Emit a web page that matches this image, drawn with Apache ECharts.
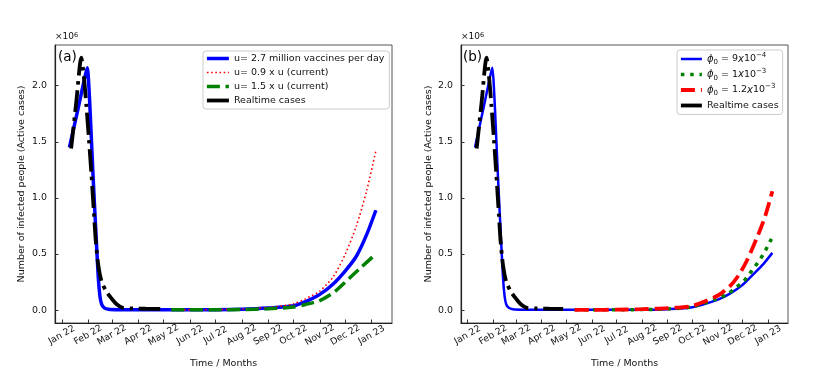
<!DOCTYPE html>
<html>
<head>
<meta charset="utf-8">
<script src="https://cdn.jsdelivr.net/npm/echarts@6/dist/echarts.min.js"></script>
<style>
html,body{margin:0;padding:0;background:#fff;}
#main{width:830px;height:374px;}
</style>
</head>
<body>
<div id="main"></div>
<script>
// 刻度
var monthTicks = ['2022-01-01','2022-02-01','2022-03-01','2022-04-01','2022-05-01','2022-06-01','2022-07-01',
	'2022-08-01','2022-09-01','2022-10-01','2022-11-01','2022-12-01','2023-01-01'];
var monthNames = ['Jan','Feb','Mar','Apr','May','Jun','Jul','Aug','Sep','Oct','Nov','Dec'];
var yTicks = [0, 0.5, 1.0, 1.5, 2.0];

// 数据, 单位 x10^6
var blueDecay = [['2022-01-10',1.45],['2022-01-20',1.79],['2022-01-28',2.07],['2022-01-31',2.16],['2022-02-02',1.98],
	['2022-02-04',1.67],['2022-02-07',1.17],['2022-02-10',0.72],['2022-02-13',0.29],['2022-02-15',0.12],
	['2022-02-17',0.05],['2022-02-20',0.02],['2022-02-25',0.008],['2022-03-10',0.004],['2022-04-15',0.002],['2022-06-01',0.002],
	['2022-07-01',0.003]];
var u27Growth = [['2022-08-01',0.007],['2022-09-01',0.018],['2022-10-01',0.038],['2022-10-15',0.075],['2022-11-01',0.14],
	['2022-11-17',0.235],['2022-12-01',0.35],['2022-12-14',0.48],['2022-12-26',0.67],['2023-01-06',0.89]];
var u09 = [['2022-05-10',0.002],['2022-06-01',0.002],['2022-07-01',0.004],['2022-08-01',0.009],['2022-09-01',0.022],
	['2022-10-01',0.056],['2022-10-15',0.10],['2022-11-01',0.17],['2022-11-17',0.30],['2022-12-01',0.50],['2022-12-14',0.75],
	['2022-12-26',1.06],['2023-01-06',1.42]];
var u15 = [['2022-05-10',0.002],['2022-06-01',0.002],['2022-07-01',0.003],['2022-08-01',0.005],['2022-09-01',0.012],
	['2022-10-01',0.027],['2022-10-15',0.05],['2022-11-01',0.085],['2022-11-17',0.155],['2022-12-01',0.25],['2022-12-18',0.37],
	['2023-01-06',0.50]];
var realtime = [['2022-01-12',1.44],['2022-01-18',1.85],['2022-01-24',2.25],['2022-01-27',2.08],['2022-01-30',1.82],
	['2022-02-02',1.52],['2022-02-05',1.20],['2022-02-08',0.85],['2022-02-10',0.62],['2022-02-13',0.40],['2022-02-17',0.25],
	['2022-02-23',0.16],['2022-03-01',0.10],['2022-03-07',0.05],['2022-03-14',0.02],['2022-03-25',0.015],['2022-04-10',0.012],
	['2022-04-27',0.01]];
var phi9Growth = [['2022-08-01',0.003],['2022-09-01',0.008],['2022-10-01',0.026],['2022-11-01',0.094],['2022-11-15',0.144],
	['2022-12-01',0.226],['2022-12-14',0.32],['2022-12-26',0.41],['2023-01-06',0.51]];
var phi1 = [['2022-05-11',0.002],['2022-06-01',0.002],['2022-07-01',0.003],['2022-08-01',0.005],['2022-09-01',0.01],
	['2022-10-01',0.03],['2022-11-01',0.105],['2022-11-13',0.144],['2022-11-22',0.197],['2022-12-01',0.247],['2022-12-08',0.31],
	['2022-12-15',0.38],['2022-12-21',0.44],['2022-12-27',0.51],['2023-01-01',0.58],['2023-01-06',0.65]];
var phi12 = [['2022-05-11',0.002],['2022-06-01',0.002],['2022-07-01',0.004],['2022-08-01',0.008],['2022-09-01',0.018],
	['2022-10-01',0.038],['2022-11-01',0.13],['2022-11-15',0.21],['2022-11-26',0.31],['2022-12-06',0.44],['2022-12-18',0.64],
	['2022-12-28',0.83],['2023-01-06',1.06]];

var FONT = 'DejaVu Sans';

function ts(s){
	var p = s.split('-');
	return new Date(+p[0], +p[1]-1, +p[2]).getTime();
}
function pts(arr){
	return arr.map(function(d){ return [ts(d[0]), d[1]]; });
}

function makeX(gi){
	return {
		type:'value', gridIndex:gi, scale:true,
		min: ts('2021-12-24'), max: ts('2023-01-25'),
		name:'Time / Months', nameLocation:'middle', nameGap:36,
		nameTextStyle:{fontFamily:FONT, fontSize:9.5, color:'#111'},
		axisLine:{show:true, onZero:false, lineStyle:{color:'#222', width:1.2}},
		axisTick:{show:true, inside:true, length:3.5, customValues: monthTicks.map(ts), lineStyle:{color:'#333'}},
		axisLabel:{
			customValues: monthTicks.map(ts), rotate:30, align:'center', verticalAlign:'middle', margin:12,
			fontFamily:FONT, fontSize:9.2, color:'#111',
			formatter:function(v){
				var d = new Date(v);
				return monthNames[d.getMonth()] + ' ' + String(d.getFullYear()).slice(2);
			}
		},
		splitLine:{show:false}
	};
}
function makeY(gi, gap){
	return {
		type:'value', gridIndex:gi, min:-0.115, max:2.363,
		name:'Number of infected people (Active cases)', nameLocation:'middle', nameGap:gap, nameRotate:90,
		nameTextStyle:{fontFamily:FONT, fontSize:9.5, color:'#111'},
		axisLine:{show:true, onZero:false, lineStyle:{color:'#222', width:1.2}},
		axisTick:{show:true, inside:true, length:3.5, customValues:yTicks, lineStyle:{color:'#333'}},
		axisLabel:{customValues:yTicks, margin:8, fontFamily:FONT, fontSize:9.4, color:'#111',
			formatter:function(v){ return v.toFixed(1); }},
		splitLine:{show:false}
	};
}
function line(name, gi, data, color, width, type){
	return {
		name:name, type:'line', xAxisIndex:gi, yAxisIndex:gi, data:pts(data),
		showSymbol:false, symbol:'none', smooth:0.25,
		lineStyle:{color:color, width:width, type:type, cap:'butt'},
		itemStyle:{color:color}
	};
}

var legendLabels = {
	'u27':'u= 2.7 million vaccines per day',
	'u09':'u= 0.9 x u (current)',
	'u15':'u= 1.5 x u (current)',
	'Realtime cases':'Realtime cases',
	'phi9':'{it|ϕ}{sub|0} = 9{it|x}10{sup|−4}',
	'phi1':'{it|ϕ}{sub|0} = 1{it|x}10{sup|−3}',
	'phi12':'{it|ϕ}{sub|0} = 1.2{it|x}10{sup|−3}'
};
var rich = {
	it:{fontFamily:FONT, fontStyle:'italic', fontSize:10, lineHeight:14, color:'#111'},
	sub:{fontFamily:FONT, fontSize:7, lineHeight:14, verticalAlign:'bottom', color:'#111'},
	sup:{fontFamily:FONT, fontSize:7, lineHeight:14, verticalAlign:'top', color:'#111'}
};
function legendBox(left, data, itemWidth, gap, lh, pad){
	return {
		left:left, top: pad.top, orient:'vertical', data:data,
		itemWidth:itemWidth, itemHeight:9, itemGap:gap,
		itemStyle:{opacity:0, borderWidth:0},
		lineStyle:{width:'inherit'},
		padding:pad.p, backgroundColor:'rgba(255,255,255,0.85)', borderColor:'#ccc', borderWidth:1, borderRadius:3,
		textStyle:{fontFamily:FONT, fontSize:9.5, color:'#111', lineHeight:lh, rich:rich},
		formatter:function(n){ return legendLabels[n]; }
	};
}

var chart = echarts.init(document.getElementById('main'));
var option = {
	backgroundColor:'#fff',
	animation:false,
	grid:[
		{left:55, top:45, width:337, height:281, show:true, borderColor:'#555', borderWidth:1},
		{left:461, top:45, width:327, height:281, show:true, borderColor:'#555', borderWidth:1}
	],
	xAxis:[makeX(0), makeX(1)],
	yAxis:[makeY(0, 28), makeY(1, 27)],
	legend:[
		legendBox(203, ['u27','u09','u15','Realtime cases'], 22, 3, 11, {top:51, p:[2,5,3,2]}),
		legendBox(677, ['phi9','phi1','phi12','Realtime cases'], 21, 1.5, 14, {top:50, p:[2,4,2,2]})
	],
	graphic:[
		{type:'text', left:58, top:50, style:{text:'(a)', fontFamily:FONT, fontSize:13.5, fill:'#000'}},
		{type:'text', left:463, top:50, style:{text:'(b)', fontFamily:FONT, fontSize:13.5, fill:'#000'}},
		{type:'text', left:55, top:32, style:{text:'×10{s|6}', fontFamily:FONT, fontSize:9, fill:'#111',
			rich:{s:{fontSize:6.5, verticalAlign:'top', fontFamily:FONT, fill:'#111'}}}},
		{type:'text', left:461, top:32, style:{text:'×10{s|6}', fontFamily:FONT, fontSize:9, fill:'#111',
			rich:{s:{fontSize:6.5, verticalAlign:'top', fontFamily:FONT, fill:'#111'}}}}
	],
	series:[
		line('u27', 0, blueDecay.concat(u27Growth), '#0000ff', 3.5, 'solid'),
		line('u09', 0, u09, '#ff0000', 1.6, [1.6, 2.6]),
		line('u15', 0, u15, '#008000', 3.5, [13, 5.6]),
		line('Realtime cases', 0, realtime, '#000000', 3.8, [22, 5.6, 3.5, 5.6]),
		line('phi9', 1, blueDecay.concat(phi9Growth), '#0000ff', 2.5, 'solid'),
		line('phi1', 1, phi1, '#008000', 3.5, [3.5, 5.8]),
		line('phi12', 1, phi12, '#ff0000', 3.8, [14, 6]),
		line('Realtime cases', 1, realtime, '#000000', 3.8, [22, 5.6, 3.5, 5.6])
	]
};
chart.setOption(option);
</script>
</body>
</html>
